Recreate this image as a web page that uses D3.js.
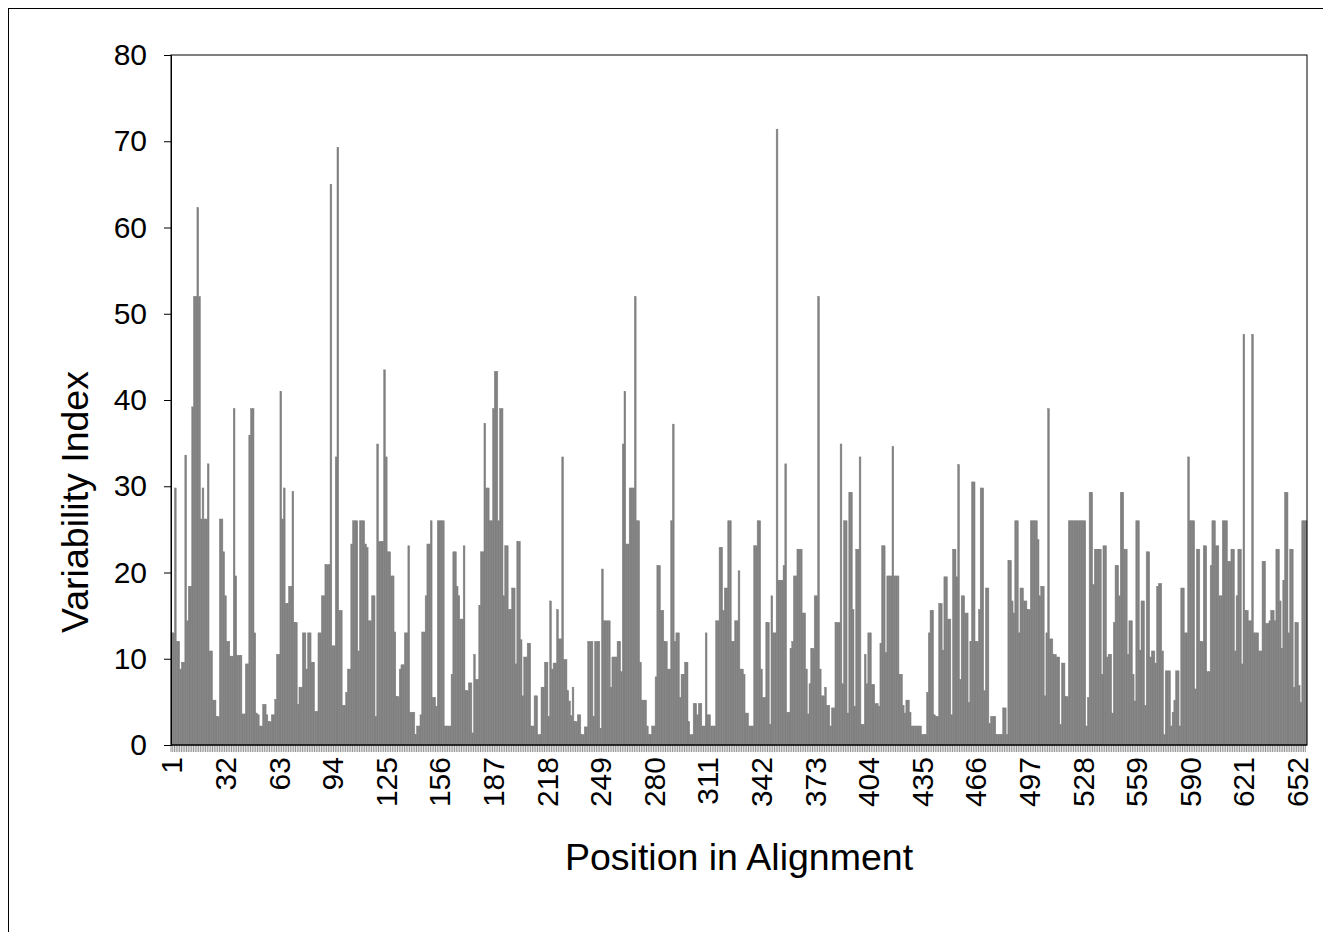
<!DOCTYPE html>
<html><head><meta charset="utf-8">
<script src="https://cdn.jsdelivr.net/npm/d3@7"></script>
<style>body{margin:0;background:#fff} text{font-family:"Liberation Sans",Arial,sans-serif}</style>
</head><body>
<svg id="c" width="1323" height="932"></svg>
<script>
const values = [
13,13,29.8,12,12,8.8,9.6,9.6,33.6,14.4,18.4,18.4,39.2,52,52,62.3,52,26.2,29.8,26.2,26.2,32.6,10.9,10.9,5.2,5.2,3.3,3.3,26.2,26.2,22.4,17.3,12,12,10.3,10.3,39,19.6,10.4,10.4,10.4,3.6,3.6,9.4,9.4,35.9,39,39,13,3.7,3.5,2.2,2.2,4.7,4.7,
3.5,2.7,2.7,3.5,3.5,5.3,10.5,10.5,41,26.2,29.8,16.4,16.4,18.4,18.4,29.4,14.2,14.2,4.7,6.7,6.7,13,13,8.8,13,13,9.6,9.6,3.9,3.9,13,13,17.3,17.3,20.9,20.9,20.9,65,11.5,11.5,33.4,69.3,15.6,15.6,4.6,4.6,6.1,8.8,8.8,23.3,26,26,26,10.9,
26,26,26,23.3,22.9,14.4,14.4,17.3,17.3,3.3,34.9,23.6,23.6,23.6,43.5,33.4,22.4,22.4,19.6,19.6,13.1,5.6,5.6,8.8,9.3,9.3,13,13,23.1,3.8,3.8,3.8,1.2,2.2,2.2,3.5,13.1,13.1,17.3,23.3,23.3,26,5.5,5.5,4.5,26,26,26,26,2.2,2.2,2.2,2.2,8.2,
22.4,22.4,18.4,17.3,14.6,14.6,23.1,6.3,6.3,7.2,7.2,1.4,10.5,7.6,7.6,16.2,22.4,22.4,37.3,29.8,29.8,26,26,39,43.3,43.3,26,39,39,17.3,23.1,23.1,15.7,15.7,18.2,18.2,9.4,23.6,23.6,12.2,5.7,10.2,10.2,11.8,11.8,2.2,2.2,5.7,5.7,1.2,1.2,6.7,6.7,9.6,9.6,
3.3,16.7,8.8,9.5,9.5,15.7,12.3,12.3,33.4,9.9,9.9,6.3,5.1,3.4,6.7,2.7,2.7,3.5,3.5,1.2,1.2,2.1,2.1,12,12,12,3.3,12,12,12,1.9,20.4,14.4,14.4,14.4,14.4,6.7,10.2,10.2,10.2,12,12,8.5,34.9,41,23.3,23.3,29.8,29.8,29.8,52,26,26,9.6,5.2,
5.2,5.2,2.2,1.2,1.2,2.2,2.2,7.9,20.8,20.8,15.6,15.6,12,12,8.8,8.8,26,37.2,12,13,13,5.5,8.2,8.2,9.6,9.6,2.7,1.2,1.2,4.8,4.8,3.5,4.8,4.8,2.2,2.2,13,3.5,3.5,2.2,2.2,2.2,14.4,14.4,22.9,22.9,15.6,18.2,18.2,26,26,12,12,14.4,14.4,
20.2,8.8,8.8,8.2,3.7,3.7,2.2,2.2,2.2,23.1,23.1,26,26,8.8,5.5,5.5,14.2,14.2,2.4,17.3,13,13,71.4,19.1,19.1,19.1,20.8,32.6,3.8,3.8,11.2,12,19.6,19.6,22.7,22.7,22.7,15.3,15.3,8.8,3.6,7.1,11.2,11.2,17.3,17.3,52,8.8,5.7,5.7,6.7,4.6,4.6,2.2,4.3,
4.3,14.2,14.2,14.2,34.9,7.1,26,26,3.7,29.3,29.3,15.7,4.5,22.7,22.7,33.4,2.4,2.4,10.5,7.1,13,13,7,7,4.8,4.8,4.5,11.8,23.1,23.1,10.7,19.6,19.6,19.6,34.6,19.6,19.6,19.6,8.2,8.2,4.6,3.7,5.2,5.2,3.8,2.2,2.2,2.2,2.2,2.2,2.2,1.2,1.2,1.2,6.1,
13,15.6,15.6,3.5,3.3,3.3,16.4,16.4,11,19.5,19.5,14.6,14.6,3.5,22.7,22.7,19.5,32.5,7.6,17.3,17.3,15.3,15.3,4.9,12,30.5,30.5,12,12,15.7,29.8,29.8,6.3,18.2,18.2,2.5,3.3,3.3,3.3,1.2,1.2,1.2,1.2,4.3,4.3,1.2,21.4,21.4,16.7,15.3,26,26,13,18.2,18.2,
16.7,16.7,15.7,15.7,26,26,26,26,23.8,17.3,18.4,18.4,5.7,13,39,12.3,12.3,10.5,10.5,10.2,10.2,2.4,9.5,9.5,5.6,5.6,26,26,26,26,26,26,26,26,26,26,2.2,5.5,29.3,29.3,18.6,22.7,22.7,22.7,22.7,8.2,23.1,23.1,10.2,10.5,10.5,3.7,14.2,20.8,20.8,
17.3,29.3,29.3,22.7,22.7,10.5,14.4,14.4,8.2,5.1,26,26,11,16.7,16.7,4.6,22.4,22.4,10.2,10.9,10.9,9.5,18.4,18.7,18.7,10.9,1.2,8.6,8.6,8.6,2.2,3.8,5.2,8.6,8.6,2.2,18.2,18.2,13,13,33.4,26,26,26,6.5,22.7,22.7,12,12,23.1,23.1,8.5,8.5,20.8,26,
26,23.1,23.1,17.3,17.3,26,26,26,21.3,21.3,22.7,22.7,10.9,17.3,22.7,22.7,9.4,47.6,15.6,15.6,14.4,14.4,47.6,13,13,13,10.9,10.9,21.3,21.3,14.1,14.1,14.4,15.6,15.6,14.4,22.7,22.7,16.7,11.2,19.1,29.3,29.3,13,22.7,22.7,6.7,14.2,14.2,6.9,4.9,26,26,26
];
const positions = values.map((d, i) => i + 1);
const xTickLabels = [1,32,63,94,125,156,187,218,249,280,311,342,373,404,435,466,497,528,559,590,621,652];
const yTicks = [0,10,20,30,40,50,60,70,80];

const L = 171, R = 1307, T = 55, B = 745;
const svg = d3.select("#c");

svg.append("rect").attr("x", 8.5).attr("y", 8.5).attr("width", 1340).attr("height", 960)
  .attr("fill", "#fff").attr("stroke", "#000").attr("stroke-width", 1);

const x = d3.scaleBand().domain(positions).range([L, R]).paddingInner(0).paddingOuter(0);
const y = d3.scaleLinear().domain([0, 80]).range([B, T]);

svg.append("g").selectAll("rect").data(values).join("rect")
  .attr("x", (d, i) => x(positions[i]))
  .attr("width", x.bandwidth())
  .attr("y", d => y(d))
  .attr("height", d => B - y(d))
  .attr("fill", "#808080")
  .attr("stroke", "#808080")
  .attr("stroke-width", 0.5);

// category tick marks at each boundary
svg.append("g").selectAll("line").data(positions).join("line")
  .attr("x1", p => x(p)).attr("x2", p => x(p))
  .attr("y1", B).attr("y2", B + 7)
  .attr("stroke", "#888").attr("stroke-width", 0.9);

// plot border
svg.append("rect").attr("x", L).attr("y", T).attr("width", R - L).attr("height", B - T)
  .attr("fill", "none").attr("stroke", "#000").attr("stroke-width", 1);

// y axis
const ya = svg.append("g").attr("transform", `translate(${L},0)`)
  .call(d3.axisLeft(y).tickValues(yTicks).tickSize(7).tickPadding(17).tickFormat(d3.format("d")));
ya.select(".domain").attr("stroke", "#000");
ya.selectAll(".tick line").attr("stroke", "#000");
ya.selectAll("text").attr("font-size", 30).attr("fill", "#000")
  .attr("font-family", '"Liberation Sans", Arial, sans-serif');

// x axis labels
const xa = svg.append("g").attr("transform", `translate(0,${B})`)
  .call(d3.axisBottom(x).tickValues(xTickLabels).tickSize(0).tickPadding(0));
xa.select(".domain").remove();
xa.selectAll("text").attr("font-size", 30).attr("fill", "#000")
  .attr("font-family", '"Liberation Sans", Arial, sans-serif')
  .attr("transform", "rotate(-90)")
  .attr("text-anchor", "end")
  .attr("x", -12).attr("y", 0).attr("dy", "0.35em");

svg.append("line").attr("x1", L).attr("x2", R).attr("y1", B).attr("y2", B).attr("stroke", "#000");

svg.append("text").attr("transform", "translate(88,502) rotate(-90)")
  .attr("text-anchor", "middle").attr("font-size", 37.5).attr("fill", "#000")
  .text("Variability Index");

svg.append("text").attr("x", (L + R) / 2).attr("y", 870)
  .attr("text-anchor", "middle").attr("font-size", 37.5).attr("fill", "#000")
  .text("Position in Alignment");
</script>
</body></html>
